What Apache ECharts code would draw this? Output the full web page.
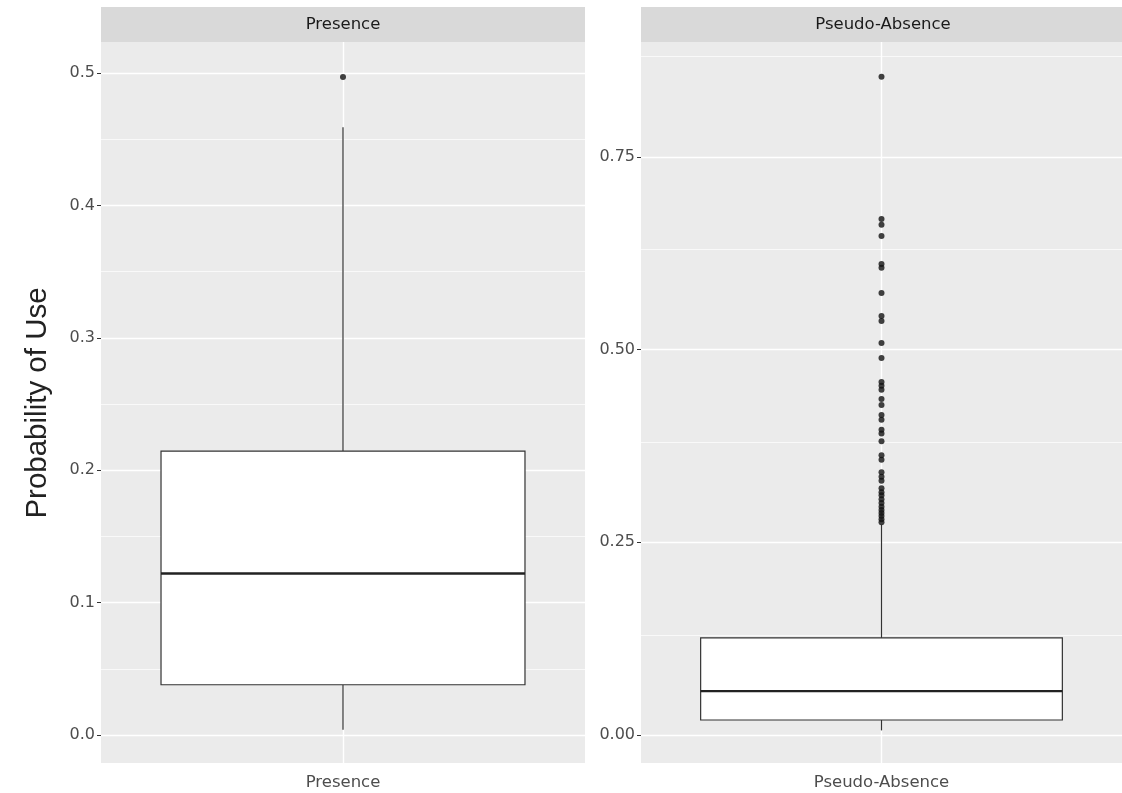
<!DOCTYPE html>
<html>
<head>
<meta charset="utf-8">
<script src="https://cdn.jsdelivr.net/npm/echarts@6/dist/echarts.min.js"></script>
<style>
html,body{margin:0;padding:0;background:#fff;}
#chart{width:1122px;height:793px;}
</style>
</head>
<body>
<div id="chart"></div>
<script>
// ---- data ----
const categoriesLeft = ['Presence'];
const categoriesRight = ['Pseudo-Absence'];
// [lower whisker, Q1, median, Q3, upper whisker]
const presenceBox = [0.004, 0.038, 0.122, 0.2145, 0.459];
const presenceOutliers = [0.497];
const absenceBox = [0.006, 0.0195, 0.057, 0.126, 0.273];
const absenceOutliers = [0.854, 0.6695, 0.662, 0.6475, 0.611, 0.606, 0.5735, 0.5437, 0.537, 0.5086, 0.489,
  0.458, 0.453, 0.448, 0.436, 0.428, 0.415, 0.409, 0.396, 0.391, 0.381, 0.363, 0.357, 0.341, 0.335, 0.330,
  0.320, 0.315, 0.311, 0.306, 0.301, 0.296, 0.292, 0.288, 0.284, 0.280, 0.276];
const leftTicks = [0.0, 0.1, 0.2, 0.3, 0.4, 0.5];
const leftMinor = [0.05, 0.15, 0.25, 0.35, 0.45];
const rightTicks = [0.00, 0.25, 0.50, 0.75];
const rightMinor = [0.125, 0.375, 0.625, 0.875];
const yTitle = 'Probability of Use';

// ---- layout ----
const panels = [
  {left: 101, top: 42, width: 484, height: 721},
  {left: 641, top: 42, width: 484, height: 721}
];
const FONT = '"DejaVu Sans", Verdana, sans-serif';
const TITLE_FONT = '"Liberation Sans", Arial, sans-serif';

const chart = echarts.init(document.getElementById('chart'), null, {renderer: 'canvas'});

function renderBox(params, api) {
  const x = api.value(0);
  const lo = api.coord([x, api.value(1)]);
  const q1 = api.coord([x, api.value(2)]);
  const med = api.coord([x, api.value(3)]);
  const q3 = api.coord([x, api.value(4)]);
  const hi = api.coord([x, api.value(5)]);
  const bw = api.size([1, 0])[0] * 0.752;
  const cx = q1[0];
  const ls = {stroke: '#333333', lineWidth: 1.2, fill: null};
  return {
    type: 'group',
    children: [
      {type: 'line', shape: {x1: cx, y1: hi[1], x2: cx, y2: q3[1]}, style: ls},
      {type: 'line', shape: {x1: cx, y1: q1[1], x2: cx, y2: lo[1]}, style: ls},
      {type: 'rect', shape: {x: cx - bw / 2, y: q3[1], width: bw, height: q1[1] - q3[1]},
        style: {fill: '#ffffff', stroke: '#333333', lineWidth: 1.2}},
      {type: 'line', shape: {x1: cx - bw / 2, y1: med[1], x2: cx + bw / 2, y2: med[1]},
        style: {stroke: '#222222', lineWidth: 2.4}}
    ]
  };
}

function gridLines(cat, major, minor) {
  const data = [];
  minor.forEach(v => data.push({yAxis: v, lineStyle: {color: '#ffffff', width: 0.7, type: 'solid'}}));
  major.forEach(v => data.push({yAxis: v, lineStyle: {color: '#ffffff', width: 1.4, type: 'solid'}}));
  data.push({xAxis: cat, lineStyle: {color: '#ffffff', width: 1.4, type: 'solid'}});
  return {
    z: 1, zlevel: 0,
    silent: true, symbol: 'none', label: {show: false},
    emphasis: {disabled: true}, animation: false,
    data: data
  };
}

function makeYAxis(gridIndex, min, max, ticks, digits) {
  return {
    type: 'value', gridIndex: gridIndex, min: min, max: max,
    axisLine: {show: false},
    splitLine: {show: false},
    axisTick: {show: true, length: 4, lineStyle: {color: '#333333', width: 1}, customValues: ticks},
    axisLabel: {
      customValues: ticks, margin: 6, color: '#4d4d4d', fontSize: 16, fontFamily: FONT,
      formatter: v => Number(v).toFixed(digits)
    }
  };
}

function makeXAxis(gridIndex, cats) {
  return {
    type: 'category', gridIndex: gridIndex, data: cats, boundaryGap: true,
    axisLine: {show: false},
    splitLine: {show: false},
    axisTick: {show: true, alignWithLabel: true, length: 4, lineStyle: {color: '#333333', width: 1}},
    axisLabel: {margin: 11, color: '#4d4d4d', fontSize: 16.5, fontFamily: FONT}
  };
}

const option = {
  backgroundColor: '#ffffff',
  animation: false,
  grid: panels.map(p => ({
    left: p.left, top: p.top, width: p.width, height: p.height,
    show: true, backgroundColor: '#ebebeb', borderWidth: 0, containLabel: false
  })),
  xAxis: [makeXAxis(0, categoriesLeft), makeXAxis(1, categoriesRight)],
  yAxis: [
    makeYAxis(0, -0.0211, 0.5234, leftTicks, 1),
    makeYAxis(1, -0.0363, 0.899, rightTicks, 2)
  ],
  graphic: [
    {type: 'rect', left: panels[0].left, top: 7, shape: {width: panels[0].width, height: 35},
      style: {fill: '#d9d9d9'}, silent: true},
    {type: 'rect', left: panels[1].left, top: 7, shape: {width: panels[1].width, height: 35},
      style: {fill: '#d9d9d9'}, silent: true},
    {type: 'text', x: panels[0].left + panels[0].width / 2, y: 25,
      style: {text: categoriesLeft[0], fill: '#1a1a1a', font: '16.5px ' + FONT, textAlign: 'center', textVerticalAlign: 'middle'}},
    {type: 'text', x: panels[1].left + panels[1].width / 2, y: 25,
      style: {text: categoriesRight[0], fill: '#1a1a1a', font: '16.5px ' + FONT, textAlign: 'center', textVerticalAlign: 'middle'}},
    {type: 'text', x: 38, y: 403, rotation: Math.PI / 2,
      style: {text: yTitle, fill: '#222222', font: '29.5px ' + TITLE_FONT, textAlign: 'center', textVerticalAlign: 'middle'}}
  ],
  series: [
    {type: 'line', xAxisIndex: 0, yAxisIndex: 0, data: [], z: 1, markLine: gridLines(categoriesLeft[0], leftTicks, leftMinor)},
    {type: 'line', xAxisIndex: 1, yAxisIndex: 1, data: [], z: 1, markLine: gridLines(categoriesRight[0], rightTicks, rightMinor)},
    {type: 'custom', xAxisIndex: 0, yAxisIndex: 0, z: 3, renderItem: renderBox,
      encode: {x: 0, y: [1, 2, 3, 4, 5]},
      data: [[0].concat(presenceBox)]},
    {type: 'custom', xAxisIndex: 1, yAxisIndex: 1, z: 3, renderItem: renderBox,
      encode: {x: 0, y: [1, 2, 3, 4, 5]},
      data: [[0].concat(absenceBox)]},
    {type: 'scatter', xAxisIndex: 0, yAxisIndex: 0, z: 4, symbolSize: 6,
      itemStyle: {color: '#111111'}, silent: true,
      data: presenceOutliers.map(v => [0, v])},
    {type: 'scatter', xAxisIndex: 1, yAxisIndex: 1, z: 4, symbolSize: 6,
      itemStyle: {color: '#111111'}, silent: true,
      data: absenceOutliers.map(v => [0, v])}
  ]
};
chart.setOption(option);
</script>
</body>
</html>
